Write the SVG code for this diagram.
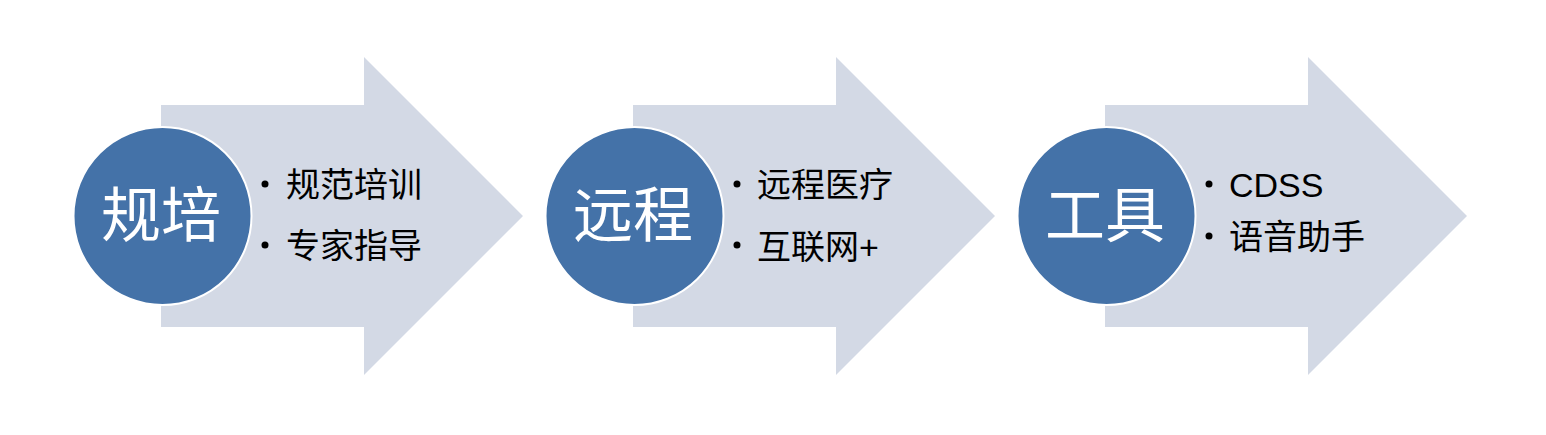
<svg xmlns="http://www.w3.org/2000/svg" width="1546" height="435" viewBox="0 0 1546 435">
<style>
.arrow{fill:#D3D9E5;}
.circle{fill:#4472A8;stroke:#FFFFFF;stroke-width:2;}
.ct{font-family:"Noto Sans CJK SC","Liberation Sans",sans-serif;font-size:60px;fill:#FFFFFF;text-anchor:middle;}
.bt{font-family:"Liberation Sans","Noto Sans CJK SC",sans-serif;font-size:34px;fill:#000000;}
.dot{fill:#000000;}
</style>
<rect width="1546" height="435" fill="#FFFFFF"/>
<g id="connectors"></g>
<g id="step1">
<polygon class="arrow" points="161,105 364,105 364,57 523,216 364,375 364,327 161,327"/>
<circle class="circle" cx="162.5" cy="216" r="89"/>
<text class="ct" x="161" y="237">规培</text>
<circle class="dot" cx="265" cy="184" r="3.5"/>
<text class="bt" x="286" y="197">规范培训</text>
<circle class="dot" cx="265" cy="245" r="3.5"/>
<text class="bt" x="286" y="258">专家指导</text>
</g>
<g id="step2">
<polygon class="arrow" points="633,105 836,105 836,57 995,216 836,375 836,327 633,327"/>
<circle class="circle" cx="634.5" cy="216" r="89"/>
<text class="ct" x="633" y="237">远程</text>
<circle class="dot" cx="737" cy="184" r="3.5"/>
<text class="bt" x="757" y="197">远程医疗</text>
<circle class="dot" cx="737" cy="245" r="3.5"/>
<text class="bt" x="757" y="259">互联网+</text>
</g>
<g id="step3">
<polygon class="arrow" points="1105,105 1308,105 1308,57 1467,216 1308,375 1308,327 1105,327"/>
<circle class="circle" cx="1106.5" cy="216" r="89"/>
<text class="ct" x="1105" y="237">工具</text>
<circle class="dot" cx="1209" cy="184" r="3.5"/>
<text class="bt" x="1229" y="197">CDSS</text>
<circle class="dot" cx="1209" cy="236" r="3.5"/>
<text class="bt" x="1229" y="249">语音助手</text>
</g>
</svg>
